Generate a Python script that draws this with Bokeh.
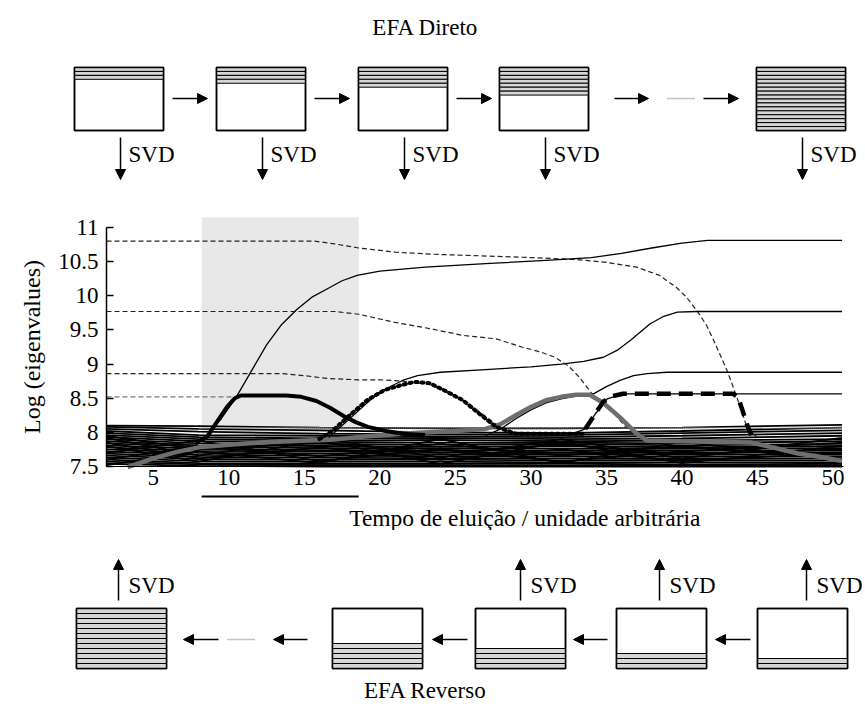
from bokeh.plotting import figure
from bokeh.layouts import column
from bokeh.models import Range1d, FixedTicker, NumeralTickFormatter, Arrow, NormalHead
from bokeh.core.properties import value
from bokeh.embed import file_html
from bokeh.resources import INLINE

FONT = "Liberation Serif"
FS = "23px"

# ---------------- chart data ----------------
x_ticks = [5, 10, 15, 20, 25, 30, 35, 40, 45, 50]
y_ticks = [7.5, 8, 8.5, 9, 9.5, 10, 10.5, 11]
x_extent = [1.9, 50.7]        # time axis extent
y_extent = [7.5, 11]          # log(eigenvalue) axis extent
window = [8.2, 18.6]          # shaded elution window
window_top = 11.15

# forward EFA eigenvalues (solid thin)
fwd1_x = [7.5, 8.5, 9.5, 10.5, 11.5, 12.5, 13.5, 14.5, 15.5, 16.5, 17.5, 18.5, 20, 23, 27, 31, 34, 36, 38, 40, 41.7, 50.6]
fwd1_y = [7.75, 7.95, 8.2, 8.52, 8.9, 9.28, 9.58, 9.8, 9.98, 10.1, 10.22, 10.3, 10.36, 10.42, 10.47, 10.52, 10.56, 10.62, 10.7, 10.77, 10.81, 10.81]
fwd2_x = [16.5, 17.5, 18.5, 19.5, 20.5, 21.5, 22.5, 24, 27, 30, 32, 33.5, 34.8, 35.7, 36.6, 37.9, 38.8, 39.7, 41, 50.6]
fwd2_y = [7.9, 8.1, 8.3, 8.5, 8.65, 8.76, 8.83, 8.88, 8.92, 8.96, 9.0, 9.04, 9.1, 9.2, 9.35, 9.59, 9.7, 9.76, 9.77, 9.77]
fwd3_x = [27, 28, 29, 30, 31, 32, 33, 34.2, 35, 35.9, 36.8, 37.7, 39, 50.6]
fwd3_y = [7.95, 8.05, 8.2, 8.33, 8.43, 8.49, 8.53, 8.57, 8.67, 8.76, 8.83, 8.86, 8.88, 8.88]
fwd4_x = [33.0, 33.6, 34.3, 35.05, 36.1, 50.6]
fwd4_y = [8.0, 8.05, 8.28, 8.49, 8.565, 8.565]

# backward EFA eigenvalues (thin dashed)
bwd1_x = [1.9, 15.7, 17, 18.6, 21, 23.3, 26, 30, 33, 35, 37, 38.5, 39.6, 40.3, 41, 41.6, 42.1, 42.6, 43, 43.6, 44.3, 45]
bwd1_y = [10.8, 10.8, 10.76, 10.7, 10.64, 10.61, 10.59, 10.56, 10.53, 10.49, 10.42, 10.3, 10.13, 9.98, 9.78, 9.58, 9.35, 9.1, 8.9, 8.54, 8.08, 7.92]
bwd2_x = [1.9, 17, 18.6, 20, 21, 23.3, 25.5, 27.7, 29.4, 30.6, 31.6, 32.5, 33.2, 34, 34.8, 35.5, 36.2, 37]
bwd2_y = [9.77, 9.77, 9.73, 9.66, 9.61, 9.52, 9.42, 9.37, 9.25, 9.18, 9.1, 8.97, 8.81, 8.58, 8.42, 8.28, 8.1, 7.95]
bwd3_x = [1.9, 13.6, 15, 16.5, 18.5, 20, 21.5, 23.3, 24.5, 26, 27.5, 28.5]
bwd3_y = [8.86, 8.86, 8.83, 8.79, 8.77, 8.77, 8.75, 8.7, 8.6, 8.4, 8.15, 8.02]
bwd4_x = [1.9, 10.5]
bwd4_y = [8.52, 8.52]

# resolved component profiles (thick)
comp1_x = [7.8, 8.55, 9.2, 9.87, 10.4, 10.8, 13.8, 14.8, 15.8, 16.7, 17.6, 18.4, 19.2, 20.4, 21.5, 23]
comp1_y = [7.85, 7.93, 8.15, 8.37, 8.5, 8.54, 8.54, 8.52, 8.46, 8.36, 8.24, 8.15, 8.08, 8.02, 7.98, 7.96]
comp2_x = [16, 16.9, 18, 19.15, 20.3, 21.4, 22.3, 23.3, 24.4, 25.5, 26.6, 27.7, 29, 33.6]
comp2_y = [7.9, 8.03, 8.25, 8.47, 8.62, 8.69, 8.74, 8.72, 8.6, 8.47, 8.27, 8.08, 7.98, 7.98]
comp3_x = [3.3, 5, 6.5, 8, 10, 12, 14, 16.7, 19, 22.2, 25, 27, 28, 29, 30, 31, 32, 33, 33.9, 34.8, 35.9, 37, 37.7, 40, 42.5, 44.6, 46, 47.7, 49.2, 50.6]
comp3_y = [7.49, 7.62, 7.71, 7.78, 7.82, 7.85, 7.87, 7.89, 7.94, 7.99, 8.02, 8.05, 8.12, 8.25, 8.37, 8.47, 8.52, 8.55, 8.55, 8.43, 8.22, 7.98, 7.88, 7.87, 7.86, 7.85, 7.78, 7.69, 7.64, 7.58]
comp4_x = [33.6, 34.2, 34.8, 35.4, 36.1, 43.4, 43.7, 44.0, 44.3, 44.6]
comp4_y = [8.05, 8.25, 8.45, 8.53, 8.565, 8.565, 8.52, 8.33, 8.12, 7.96]

# noise eigenvalues (the dense band at the bottom)
noise_x = [1.9, 8, 16, 24, 32, 40, 50.6]
noise_levels = [
    [8.10, 8.09, 8.07, 8.06, 8.06, 8.07, 8.11],
    [8.08, 8.05, 8.03, 8.00, 7.99, 8.02, 8.07],
    [8.05, 8.01, 7.98, 7.97, 7.96, 7.99, 8.03],
    [8.02, 7.96, 7.95, 7.94, 7.93, 7.95, 7.99],
    [7.99, 7.93, 7.91, 7.92, 7.90, 7.91, 7.95],
    [7.96, 7.90, 7.88, 7.89, 7.87, 7.88, 7.90],
    [7.93, 7.87, 7.86, 7.85, 7.85, 7.84, 7.87],
    [7.90, 7.84, 7.83, 7.82, 7.83, 7.81, 7.83],
    [7.87, 7.81, 7.80, 7.79, 7.80, 7.78, 7.80],
    [7.84, 7.79, 7.77, 7.77, 7.76, 7.76, 7.77],
    [7.81, 7.76, 7.74, 7.74, 7.73, 7.73, 7.74],
    [7.78, 7.73, 7.72, 7.71, 7.70, 7.70, 7.71],
    [7.75, 7.70, 7.69, 7.68, 7.68, 7.67, 7.68],
    [7.72, 7.67, 7.66, 7.65, 7.65, 7.64, 7.65],
    [7.69, 7.64, 7.63, 7.62, 7.62, 7.61, 7.62],
    [7.66, 7.61, 7.60, 7.60, 7.59, 7.59, 7.59],
    [7.63, 7.58, 7.57, 7.57, 7.56, 7.56, 7.56],
    [7.60, 7.55, 7.54, 7.54, 7.54, 7.53, 7.54],
    [7.57, 7.53, 7.52, 7.52, 7.51, 7.51, 7.52],
    [7.54, 7.51, 7.50, 7.50, 7.50, 7.50, 7.50],
    [7.95, 7.75, 7.85, 7.70, 7.82, 7.68, 7.75],
    [7.60, 7.80, 7.65, 7.83, 7.66, 7.80, 7.62],
    [7.85, 7.62, 7.78, 7.60, 7.75, 7.58, 7.70],
    [7.70, 7.88, 7.58, 7.76, 7.57, 7.72, 7.85],
    [7.92, 7.66, 7.92, 7.63, 7.90, 7.62, 7.92],
    [7.52, 7.72, 7.55, 7.90, 7.55, 7.86, 7.60],
    [7.80, 7.57, 7.88, 7.54, 7.86, 7.55, 7.80],
]
noise_top_x = [8, 50.6]
noise_top_y = [8.065, 8.065]

# ---------------- diagram layout (page pixels) ----------------
PAGE_W = 862
top_box_left = [74, 216, 358, 499, 756]
top_stripes = [3, 4, 5, 7, 16]
top_box_y = [67, 130]
top_box_w = 89
bot_box_left = [76, 332, 475, 616, 757]
bot_stripes = [12, 5, 4, 3, 2]
bot_box_y = [608, 668]
bot_box_w = 90

# chart placement on the page (pixels): axes origin and scale
CH_Y0, CH_Y1, PAGE_H = 193, 530, 708
AX_LEFT_PX, AX_RIGHT_PX = 106, 843
Y11_PX, Y75_PX = 227, 466


def diag_fig(y0, y1):
    f = figure(width=PAGE_W, height=int(y1 - y0), x_range=Range1d(0, PAGE_W), y_range=Range1d(y1, y0),
               output_backend="svg", toolbar_location=None, min_border=0)
    f.axis.visible = False
    f.grid.visible = False
    f.outline_line_color = None
    return f


def arrow(f, xs, ys, xe, ye):
    f.add_layout(Arrow(x_start=xs, y_start=ys, x_end=xe, y_end=ye, line_width=1.5, line_color="black",
                       end=NormalHead(size=10, fill_color="black", line_color="black")))


def text(f, x, y, s, align="left"):
    f.text(x=[x], y=[y], text=[s], text_font=value(FONT), text_font_size=FS, text_color="black",
           text_align=align, text_baseline="middle")


# ---------- top diagram ----------
top = diag_fig(0, CH_Y0)
text(top, 425, 27, "EFA Direto", "center")
sh = (top_box_y[1] - top_box_y[0]) / top_stripes[-1]
for left, n in zip(top_box_left, top_stripes):
    top.quad(left=[left], right=[left + top_box_w], top=[top_box_y[0]], bottom=[top_box_y[1]],
             fill_color="white", line_color="black", line_width=1.5)
    for k in range(n):
        top.quad(left=[left], right=[left + top_box_w], top=[top_box_y[0] + k * sh],
                 bottom=[top_box_y[0] + (k + 1) * sh], fill_color="#d6d6d6", line_color="black", line_width=1)
    top.quad(left=[left], right=[left + top_box_w], top=[top_box_y[0]], bottom=[top_box_y[1]],
             fill_color=None, line_color="black", line_width=1.5)
    ax = left + 46
    arrow(top, ax, 137, ax, 179)
    text(top, ax + 8, 154, "SVD")
for xs, xe in [(172, 207), (314, 349), (456, 491), (614, 648), (703, 738)]:
    arrow(top, xs, 98, xe, 98)
top.line(x=[667, 695], y=[98, 98], line_color="#888888", line_width=1.5, line_dash="1 1")

# ---------- chart ----------
# frame spans the full page width; axes are placed at fixed locations inside it
px_per_x = (AX_RIGHT_PX - AX_LEFT_PX) / (x_extent[1] - x_extent[0])
px_per_y = (Y75_PX - Y11_PX) / (y_extent[1] - y_extent[0])
xr = Range1d(x_extent[0] - AX_LEFT_PX / px_per_x, x_extent[1] + (PAGE_W - AX_RIGHT_PX) / px_per_x)
yr = Range1d(y_extent[0] - (CH_Y1 - Y75_PX) / px_per_y, y_extent[1] + (Y11_PX - CH_Y0) / px_per_y)

p = figure(width=PAGE_W, height=CH_Y1 - CH_Y0, x_range=xr, y_range=yr, min_border=0,
           output_backend="svg", toolbar_location=None)
p.grid.visible = False
p.outline_line_color = None

p.quad(left=[window[0]], right=[window[1]], bottom=[y_extent[0]], top=[window_top], fill_color="#e8e8e8", line_color=None)

for lv in noise_levels:
    p.line(noise_x, lv, line_color="black", line_width=1.8)
p.line(noise_top_x, noise_top_y, line_color="#bdbdbd", line_width=1.2, line_dash="1 1")

for bx, by in [(bwd1_x, bwd1_y), (bwd2_x, bwd2_y), (bwd3_x, bwd3_y)]:
    p.line(bx, by, line_color="#222222", line_width=1.2, line_dash="5 3")
p.line(bwd4_x, bwd4_y, line_color="#777777", line_width=1.2, line_dash="5 3")

for fx, fy in [(fwd1_x, fwd1_y), (fwd2_x, fwd2_y), (fwd3_x, fwd3_y), (fwd4_x, fwd4_y)]:
    p.line(fx, fy, line_color="black", line_width=1.3)

p.line(comp3_x, comp3_y, line_color="#6e6e6e", line_width=4.5)
p.line(comp1_x, comp1_y, line_color="black", line_width=4)
p.line(comp2_x, comp2_y, line_color="black", line_width=4, line_dash="2 4", line_cap="round")
p.line(comp4_x, comp4_y, line_color="black", line_width=4.5, line_dash="14 8")

# elution window underline and x label (below the axis, inside the frame)
ul_y = y_extent[0] - 30 / px_per_y
p.line(x=window, y=[ul_y, ul_y], line_color="black", line_width=2)
p.text(x=[29.6], y=[y_extent[0] - 51 / px_per_y], text=["Tempo de eluição / unidade arbitrária"],
       text_font=value(FONT), text_font_size="23.5px", text_color="black", text_align="center", text_baseline="middle")

p.xaxis.fixed_location = y_extent[0]
p.xaxis.bounds = tuple(x_extent)
p.xaxis.ticker = FixedTicker(ticks=x_ticks)
p.xaxis.major_tick_in = 0
p.xaxis.major_tick_out = 0
p.xaxis.minor_tick_line_color = None
p.xaxis.axis_line_color = "black"
p.xaxis.major_label_standoff = 3

p.yaxis.fixed_location = x_extent[0]
p.yaxis.bounds = tuple(y_extent)
p.yaxis.ticker = FixedTicker(ticks=y_ticks)
p.yaxis.formatter = NumeralTickFormatter(format="0.[0]")
p.yaxis.major_tick_in = 7
p.yaxis.major_tick_out = 0
p.yaxis.minor_tick_line_color = None
p.yaxis.axis_line_width = 1.5
p.yaxis.major_tick_line_width = 1.5
p.yaxis.major_label_standoff = 8
p.yaxis.axis_label = "Log (eigenvalues)"
p.yaxis.axis_label_standoff = 10
p.yaxis.axis_label_text_font_style = "normal"
for a in [p.xaxis[0], p.yaxis[0]]:
    a.major_label_text_font = FONT
    a.major_label_text_font_size = FS
    a.major_label_text_color = "black"
    a.axis_label_text_font = FONT
    a.axis_label_text_font_size = "24px"
    a.axis_label_text_color = "black"

# ---------- bottom diagram ----------
bot = diag_fig(CH_Y1, PAGE_H)
text(bot, 425, 690, "EFA Reverso", "center")
bsh = 5
for left, n in zip(bot_box_left, bot_stripes):
    bot.quad(left=[left], right=[left + bot_box_w], top=[bot_box_y[0]], bottom=[bot_box_y[1]],
             fill_color="white", line_color="black", line_width=1.5)
    for k in range(n):
        bot.quad(left=[left], right=[left + bot_box_w], top=[bot_box_y[1] - (k + 1) * bsh],
                 bottom=[bot_box_y[1] - k * bsh], fill_color="#d6d6d6", line_color="black", line_width=1)
    bot.quad(left=[left], right=[left + bot_box_w], top=[bot_box_y[0]], bottom=[bot_box_y[1]],
             fill_color=None, line_color="black", line_width=1.5)
for ax in [118, 520, 659, 806]:
    arrow(bot, ax, 600, ax, 559)
    text(bot, ax + 10, 585, "SVD")
for xs, xe in [(750, 715), (607, 573), (467, 432), (307, 273), (218, 183)]:
    arrow(bot, xs, 639, xe, 639)
bot.line(x=[227, 255], y=[639, 639], line_color="#888888", line_width=1.5, line_dash="1 1")

layout = column(top, p, bot, spacing=0)
open("out.html", "w").write(file_html(layout, INLINE))
